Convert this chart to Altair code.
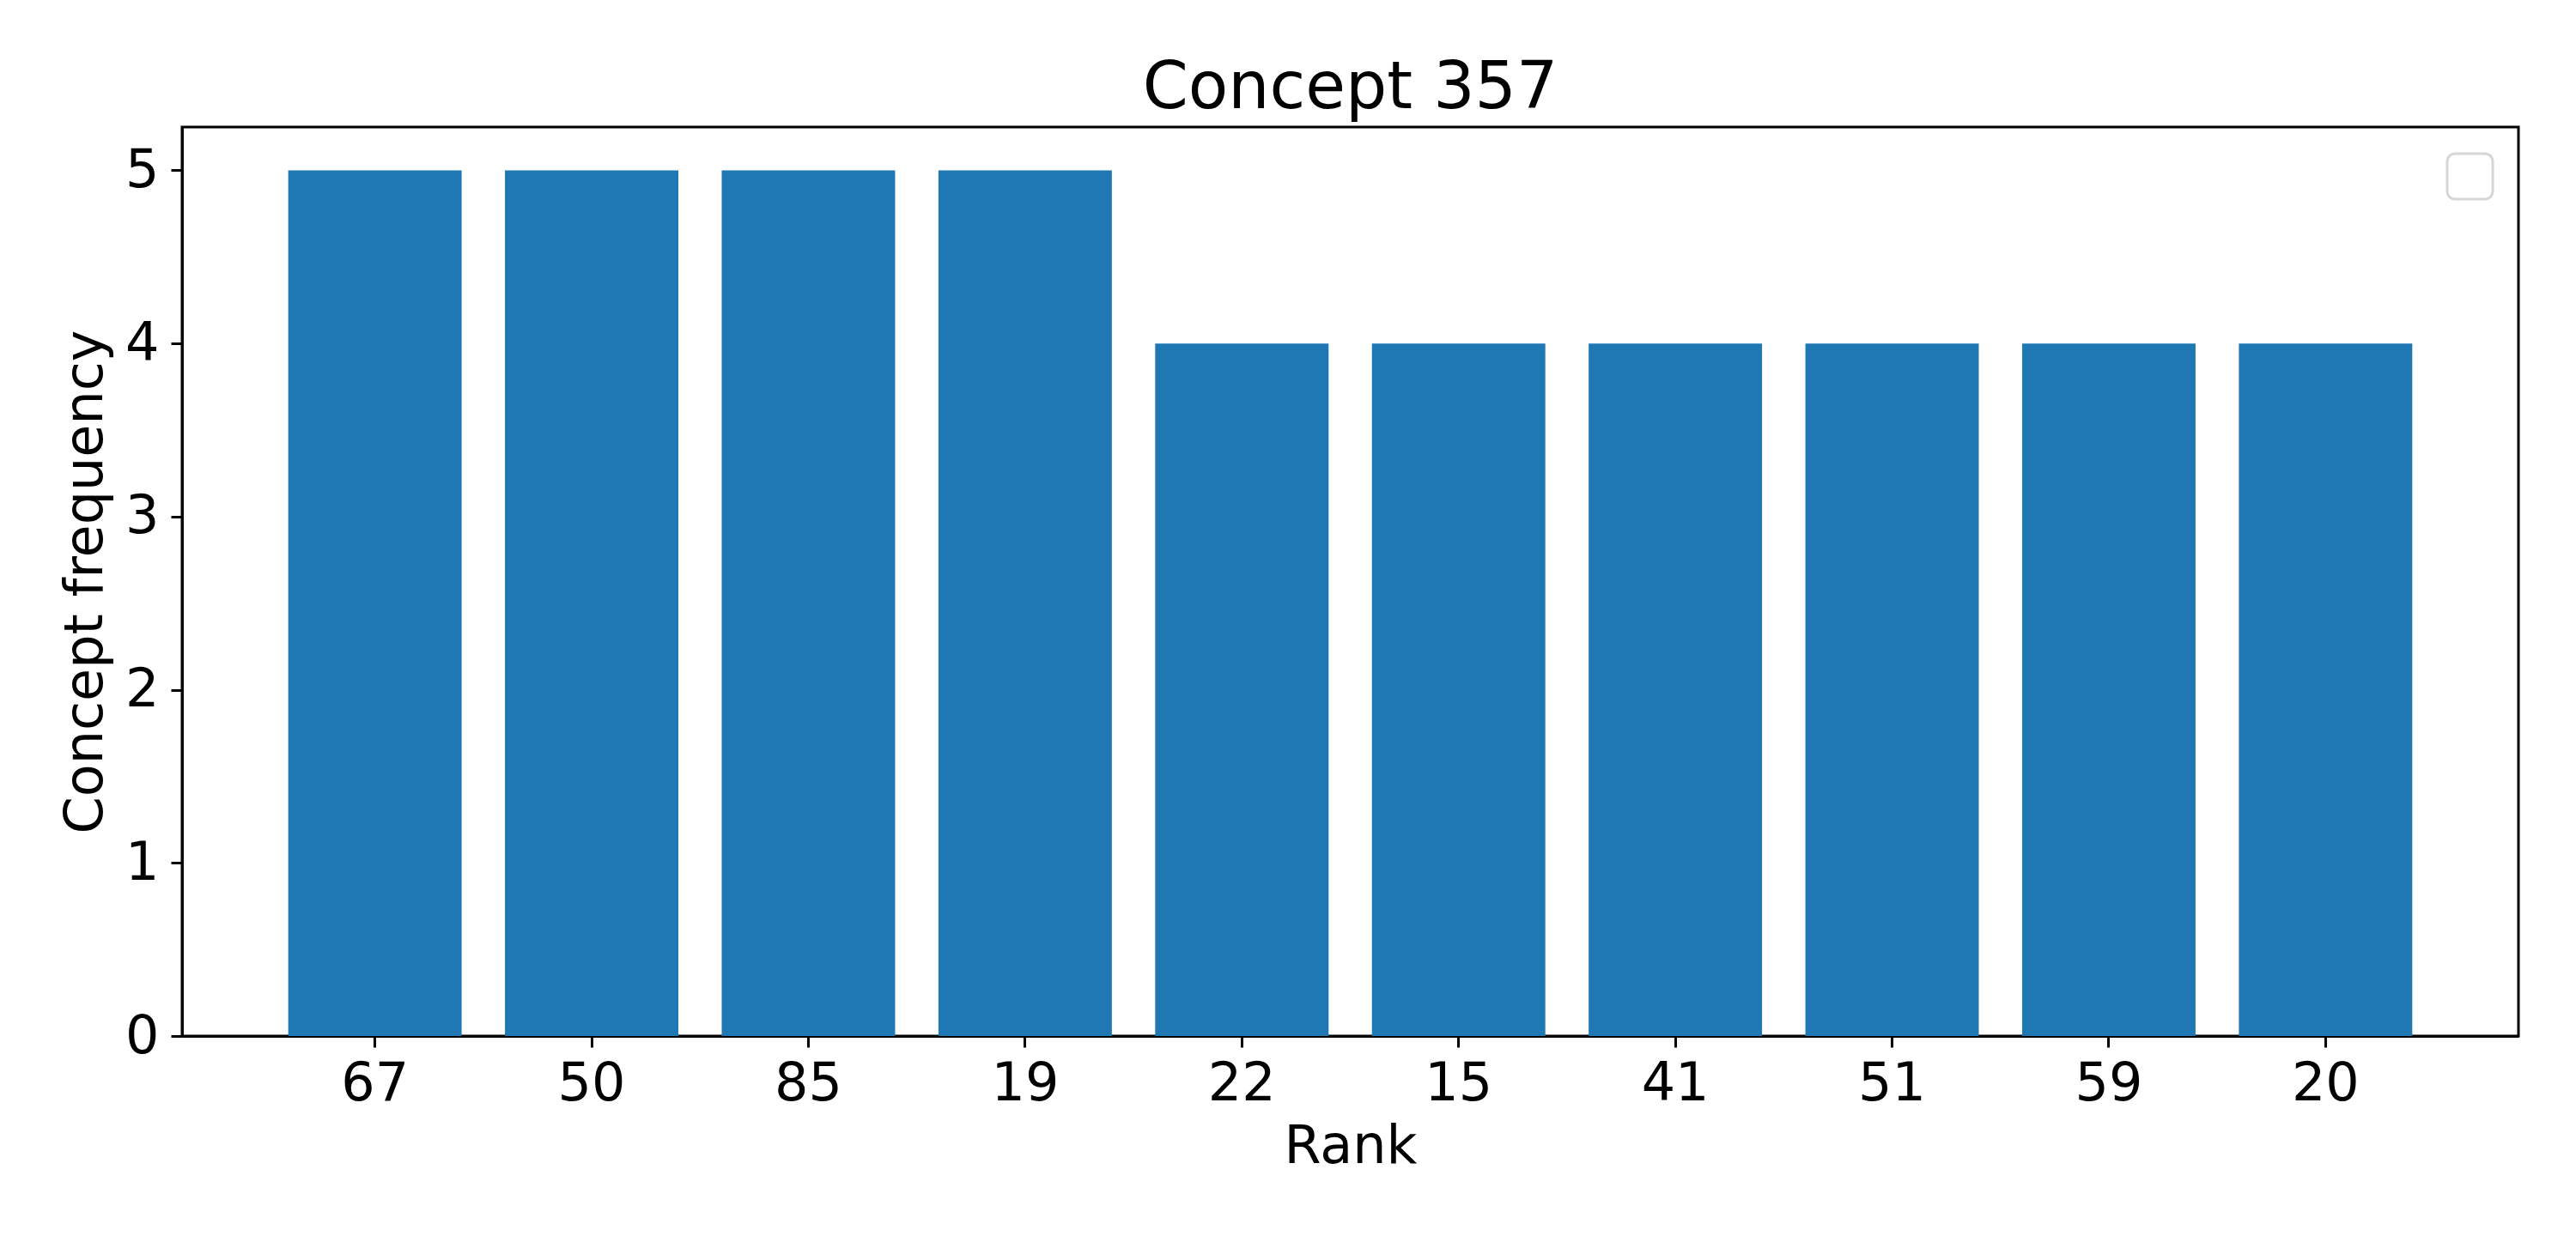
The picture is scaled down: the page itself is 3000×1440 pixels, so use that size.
import altair as alt
import pandas as pd

ranks = ["67", "50", "85", "19", "22", "15", "41", "51", "59", "20"]
frequencies = [5, 5, 5, 5, 4, 4, 4, 4, 4, 4]

df = pd.DataFrame({"Rank": ranks, "Frequency": frequencies})

FONT = "DejaVu Sans"
W, H = 2721, 1059

bars = alt.Chart(df).mark_bar(color="#1f77b4").encode(
    x=alt.X(
        "Rank:N",
        sort=ranks,
        scale=alt.Scale(paddingInner=0.2, paddingOuter=0.49),
        axis=alt.Axis(
            title="Rank",
            labelAngle=0,
            labelFontSize=62,
            titleFontSize=62,
            labelFont=FONT,
            titleFont=FONT,
            titleFontWeight="normal",
            labelColor="black",
            titleColor="black",
            tickSize=13,
            tickWidth=3,
            tickColor="black",
            domainColor="black",
            domainWidth=3,
            labelPadding=12,
            titlePadding=12,
            grid=False,
        ),
    ),
    y=alt.Y(
        "Frequency:Q",
        scale=alt.Scale(domain=[0, 5.25], nice=False),
        axis=alt.Axis(
            title="Concept frequency",
            values=[0, 1, 2, 3, 4, 5],
            format="d",
            labelFontSize=62,
            titleFontSize=62,
            labelFont=FONT,
            titleFont=FONT,
            titleFontWeight="normal",
            labelColor="black",
            titleColor="black",
            tickSize=13,
            tickWidth=3,
            tickColor="black",
            domainColor="black",
            domainWidth=3,
            labelPadding=14,
            titlePadding=14,
            grid=False,
        ),
    ),
)

# empty legend frame (as in the reference)
legend_box = alt.Chart(df.head(1)).mark_rect(
    fill="white", stroke="#d6d6d6", strokeWidth=3, cornerRadius=9
).encode(
    x=alt.value(W - 83), x2=alt.value(W - 30),
    y=alt.value(31), y2=alt.value(84),
)

chart = (
    alt.layer(bars, legend_box)
    .properties(
        width=W,
        height=H,
        title=alt.TitleParams(
            "Concept 357",
            fontSize=76,
            font=FONT,
            fontWeight="normal",
            color="black",
            anchor="middle",
            baseline="alphabetic",
            offset=-54,
        ),
        autosize=alt.AutoSizeParams(type="none"),
        padding={"left": 204, "top": 140, "right": 59, "bottom": 225},
    )
    .configure(background="white")
    .configure_view(stroke="black", strokeWidth=3)
)

chart.save("out.html", embed_options={"renderer": "svg", "actions": False})
